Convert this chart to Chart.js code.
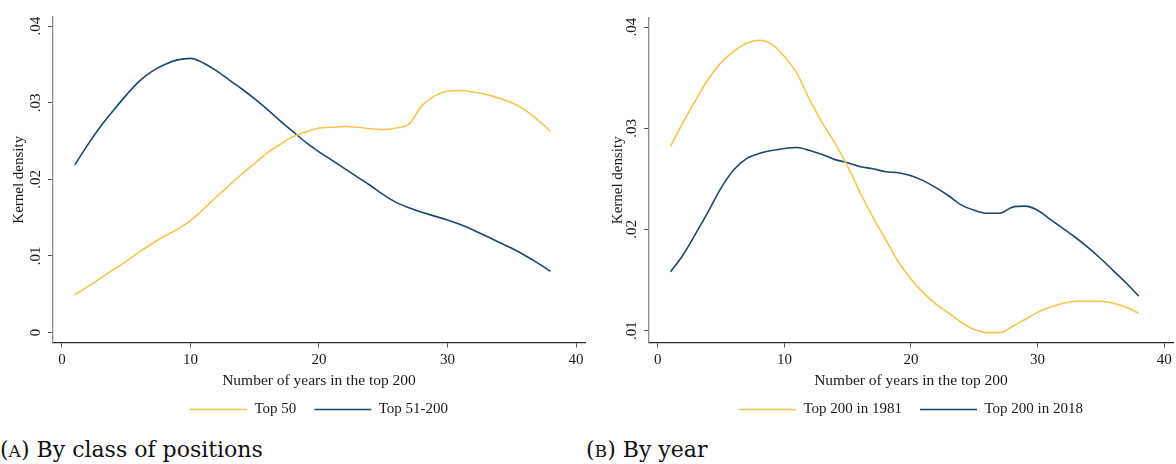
<!DOCTYPE html>
<html>
<head>
<meta charset="utf-8">
<script src="https://cdn.jsdelivr.net/npm/chart.js@4.4.1/dist/chart.umd.min.js"></script>
<style>
  html, body { margin: 0; padding: 0; background: #fff; }
  body { width: 1176px; height: 464px; position: relative; overflow: hidden; font-family: "Liberation Serif", serif; }
  canvas { position: absolute; top: 0; }
  #chartA { left: 0; }
  #chartB { left: 599px; }
  .caption { position: absolute; top: 438px; font-family: "DejaVu Serif", serif; font-size: 22px; line-height: 24px; color: #111; white-space: nowrap; }
  .caption .sc { font-size: 0.78em; }
</style>
</head>
<body>
<canvas id="chartA" width="590" height="427"></canvas>
<canvas id="chartB" width="577" height="427"></canvas>
<div class="caption" style="left:0px">(<span class="sc">A</span>) By class of positions</div>
<div class="caption" style="left:586px">(<span class="sc">B</span>) By year</div>
<script>
// x = number of years in the top 200
const years = [1,2,3,4,5,6,7,8,9,10,11,12,13,14,15,16,17,18,19,20,21,22,23,24,25,26,27,28,29,30,31,32,33,34,35,36,37,38];

// panel A: by class of positions
const top50 = [.0049,.0060,.0071,.0082,.0093,.0105,.0116,.0126,.0135,.0146,.0161,.0177,.0192,.0207,.0221,.0235,.0246,.0256,.0262,.0267,
  .0268,.0269,.0268,.0266,.0265,.0267,.0272,.0296,.0309,.0315,.0316,.0314,.0311,.0306,.0300,.0291,.0278,.0263];
const top51to200 = [.0219,.0245,.0269,.0290,.0310,.0328,.0341,.0350,.0356,.0358,.0352,.0342,.0330,.0318,.0305,.0291,.0276,.0262,.0248,.0236,
  .0225,.0214,.0203,.0192,.0180,.0170,.0163,.0157,.0152,.0147,.0141,.0134,.0126,.0118,.0110,.0101,.0091,.0080];

// panel B: by year
const top200in1981 = [.0282,.0306,.0328,.0349,.0365,.0376,.0384,.0387,.0383,.0371,.0354,.0328,.0305,.0285,.0262,.0236,.0212,.0190,.0168,.0151,
  .0137,.0126,.0117,.0108,.0101,.0098,.0098,.0104,.0111,.0118,.0123,.0127,.0129,.0129,.0129,.0127,.0123,.0117];
const top200in2018 = [.0158,.0175,.0196,.0218,.0241,.0259,.0270,.0275,.0278,.0280,.0281,.0278,.0274,.0269,.0266,.0262,.0260,.0257,.0256,.0253,
  .0248,.0241,.0233,.0224,.0219,.0216,.0216,.0222,.0223,.0219,.0210,.0201,.0192,.0182,.0171,.0159,.0147,.0134];

const xTicks = [0, 10, 20, 30, 40];
const yTicksA = [0, 0.01, 0.02, 0.03, 0.04];
const yTickTextA = ['0', '.01', '.02', '.03', '.04'];
const yTicksB = [0.01, 0.02, 0.03, 0.04];
const yTickTextB = ['.01', '.02', '.03', '.04'];

const GOLD = '#f4c550';
const NAVY = '#1a476f';
const FONT = '"Liberation Serif", "Times New Roman", serif';

function pts(vals) {
  return years.map((x, i) => ({ x: x, y: vals[i] }));
}

// Stata draws the y labels turned 90 degrees; Chart.js does not rotate them on a vertical axis
const rotatedYLabels = {
  id: 'rotatedYLabels',
  afterDraw(chart, args, opts) {
    const s = chart.scales.y;
    const ctx = chart.ctx;
    ctx.save();
    ctx.font = '15px ' + FONT;
    ctx.fillStyle = '#1a1a1a';
    ctx.textAlign = 'center';
    ctx.textBaseline = 'middle';
    s.ticks.forEach((t, i) => {
      ctx.save();
      ctx.translate(s.right - 17, s.getPixelForValue(t.value));
      ctx.rotate(-Math.PI / 2);
      ctx.fillText(opts.text[i], 0, 0);
      ctx.restore();
    });
    ctx.restore();
  }
};

function makeChart(id, names, series, yMin, yMax, yTicks, yText, pad) {
  const ds = series.map((vals, i) => ({
    label: names[i],
    data: pts(vals),
    borderColor: i === 0 ? GOLD : NAVY,
    backgroundColor: i === 0 ? GOLD : NAVY,
    borderWidth: 1.6,
    pointRadius: 0,
    pointStyle: 'line',
    tension: 0.4,
    cubicInterpolationMode: 'monotone',
    fill: false
  }));
  return new Chart(document.getElementById(id), {
    type: 'line',
    data: { datasets: ds },
    plugins: [rotatedYLabels],
    options: {
      responsive: false,
      animation: false,
      devicePixelRatio: 1,
      layout: { padding: pad },
      plugins: {
        rotatedYLabels: { text: yText },
        tooltip: { enabled: false },
        legend: {
          position: 'bottom',
          fullSize: false,
          labels: {
            usePointStyle: true,
            pointStyleWidth: 57,
            boxHeight: 10,
            padding: 18,
            color: '#1a1a1a',
            font: { family: FONT, size: 15 }
          }
        }
      },
      scales: {
        x: {
          type: 'linear',
          min: -0.7,
          max: 40.7,
          afterBuildTicks: s => { s.ticks = xTicks.map(v => ({ value: v })); },
          border: { display: true, color: '#2a2a2a', width: 1.3 },
          grid: { drawOnChartArea: false, drawTicks: true, tickLength: 5, color: '#555' },
          ticks: { color: '#1a1a1a', padding: 4, maxRotation: 0, font: { family: FONT, size: 15 } },
          title: {
            display: true,
            text: 'Number of years in the top 200',
            color: '#1a1a1a',
            font: { family: FONT, size: 15.5, lineHeight: 1 },
            padding: { top: 0, bottom: -5 }
          }
        },
        y: {
          min: yMin,
          max: yMax,
          afterBuildTicks: s => { s.ticks = yTicks.map(v => ({ value: v })); },
          afterFit: s => { s.width = pad.yw; },
          border: { display: true, color: '#8a8a8a', width: 1.3 },
          grid: { drawOnChartArea: false, drawTicks: true, tickLength: 5, color: '#555' },
          ticks: { display: false },
          title: {
            display: true,
            text: 'Kernel density',
            color: '#1a1a1a',
            font: { family: FONT, size: 15, lineHeight: 1.2 },
            padding: { top: 10, bottom: 0 }
          }
        }
      }
    }
  });
}

makeChart('chartA', ['Top 50', 'Top 51-200'], [top50, top51to200],
  -0.0013, 0.0412, yTicksA, yTickTextA, { left: 0, right: 5, top: 17, bottom: 0, yw: 53 });
makeChart('chartB', ['Top 200 in 1981', 'Top 200 in 2018'], [top200in1981, top200in2018],
  0.00882, 0.0409, yTicksB, yTickTextB, { left: 0, right: 3, top: 18, bottom: 0, yw: 50 });
</script>
</body>
</html>
